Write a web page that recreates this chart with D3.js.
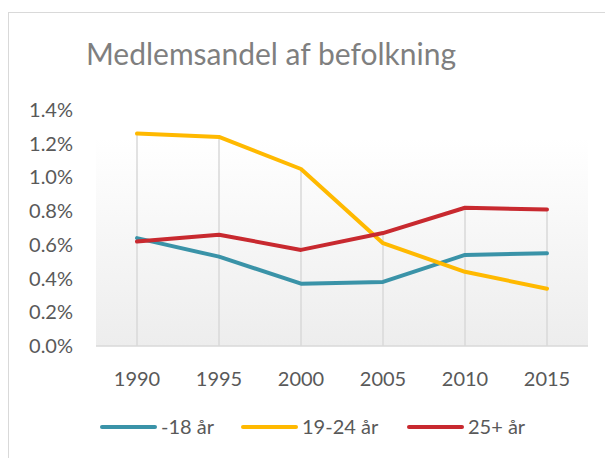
<!DOCTYPE html>
<html>
<head>
<meta charset="utf-8">
<script src="https://cdn.jsdelivr.net/npm/d3@7"></script>
<style>
body { margin: 0; background: #fff; }
text { font-family: Lato, "Noto Sans", sans-serif; }
</style>
</head>
<body>
<script>
var w = 605;
var h = 458;

var years = ["1990", "1995", "2000", "2005", "2010", "2015"];
var under18 = [0.64, 0.53, 0.37, 0.38, 0.54, 0.55];
var age19to24 = [1.26, 1.24, 1.05, 0.61, 0.44, 0.34];
var age25plus = [0.62, 0.66, 0.57, 0.67, 0.82, 0.81];
var seriesNames = ["-18 år", "19-24 år", "25+ år"];
var seriesColors = ["#3a93a8", "#ffb900", "#c8292f"];
var yTicks = [0, 0.2, 0.4, 0.6, 0.8, 1.0, 1.2, 1.4];

var series = [under18, age19to24, age25plus];

var plotLeft = 96, plotRight = 588, plotTop = 110, plotBottom = 346;

var svg = d3.select("body")
    .append("svg")
    .attr("width", w)
    .attr("height", h);

// chart border
svg.append("rect")
    .attr("x", 8.5)
    .attr("y", 12.5)
    .attr("width", 620)
    .attr("height", 470)
    .attr("fill", "none")
    .attr("stroke", "#d9d9d9");

var defs = svg.append("defs");
var grad = defs.append("linearGradient")
    .attr("id", "bg")
    .attr("x1", 0).attr("y1", 0)
    .attr("x2", 0).attr("y2", 1);
grad.append("stop").attr("offset", "0%").attr("stop-color", "#ffffff");
grad.append("stop").attr("offset", "100%").attr("stop-color", "#ededed");

var x = d3.scaleBand()
    .domain(years)
    .range([plotLeft, plotRight]);

var y = d3.scaleLinear()
    .domain([0, 1.4])
    .range([plotBottom, plotTop]);

svg.append("rect")
    .attr("x", plotLeft)
    .attr("y", plotTop + 28)
    .attr("width", plotRight - plotLeft)
    .attr("height", plotBottom - plotTop - 28)
    .attr("fill", "url(#bg)");

// title
svg.append("text")
    .attr("x", 271)
    .attr("y", 65)
    .attr("text-anchor", "middle")
    .attr("fill", "#7f7f7f")
    .attr("font-size", "30px")
    .text("Medlemsandel af befolkning");

// y axis labels
svg.selectAll(".ylab")
    .data(yTicks)
    .enter()
    .append("text")
    .attr("class", "ylab")
    .attr("x", 73)
    .attr("y", function(d) { return y(d) + 7; })
    .attr("text-anchor", "end")
    .attr("fill", "#595959")
    .attr("font-size", "20px")
    .text(function(d) { return d3.format(".1f")(d) + "%"; });

// drop lines
svg.selectAll(".drop")
    .data(years)
    .enter()
    .append("line")
    .attr("class", "drop")
    .attr("x1", function(d) { return x(d) + x.bandwidth() / 2; })
    .attr("x2", function(d) { return x(d) + x.bandwidth() / 2; })
    .attr("y1", function(d, i) { return y(d3.max(series, function(s) { return s[i]; })); })
    .attr("y2", plotBottom)
    .attr("stroke", "#d9d9d9")
    .attr("stroke-width", 1.5);

// x axis line
svg.append("line")
    .attr("x1", plotLeft)
    .attr("x2", plotRight)
    .attr("y1", plotBottom)
    .attr("y2", plotBottom)
    .attr("stroke", "#d9d9d9")
    .attr("stroke-width", 1.5);

// x labels
svg.selectAll(".xlab")
    .data(years)
    .enter()
    .append("text")
    .attr("class", "xlab")
    .attr("x", function(d) { return x(d) + x.bandwidth() / 2; })
    .attr("y", 386)
    .attr("text-anchor", "middle")
    .attr("fill", "#595959")
    .attr("font-size", "20px")
    .text(function(d) { return d; });

var line = d3.line()
    .x(function(d, i) { return x(years[i]) + x.bandwidth() / 2; })
    .y(function(d) { return y(d); });

svg.selectAll(".series")
    .data(series)
    .enter()
    .append("path")
    .attr("class", "series")
    .attr("d", line)
    .attr("fill", "none")
    .attr("stroke", function(d, i) { return seriesColors[i]; })
    .attr("stroke-width", 4)
    .attr("stroke-linejoin", "round")
    .attr("stroke-linecap", "round");

// legend
var legendX = [102, 243, 409];
var legend = svg.selectAll(".legend")
    .data(seriesNames)
    .enter()
    .append("g")
    .attr("class", "legend")
    .attr("transform", function(d, i) { return "translate(" + legendX[i] + ",427)"; });

legend.append("line")
    .attr("x1", 0)
    .attr("x2", 53)
    .attr("stroke", function(d, i) { return seriesColors[i]; })
    .attr("stroke-width", 4)
    .attr("stroke-linecap", "round");

legend.append("text")
    .attr("x", 59)
    .attr("y", 7)
    .attr("fill", "#595959")
    .attr("font-size", "20px")
    .text(function(d) { return d; });
</script>
</body>
</html>
